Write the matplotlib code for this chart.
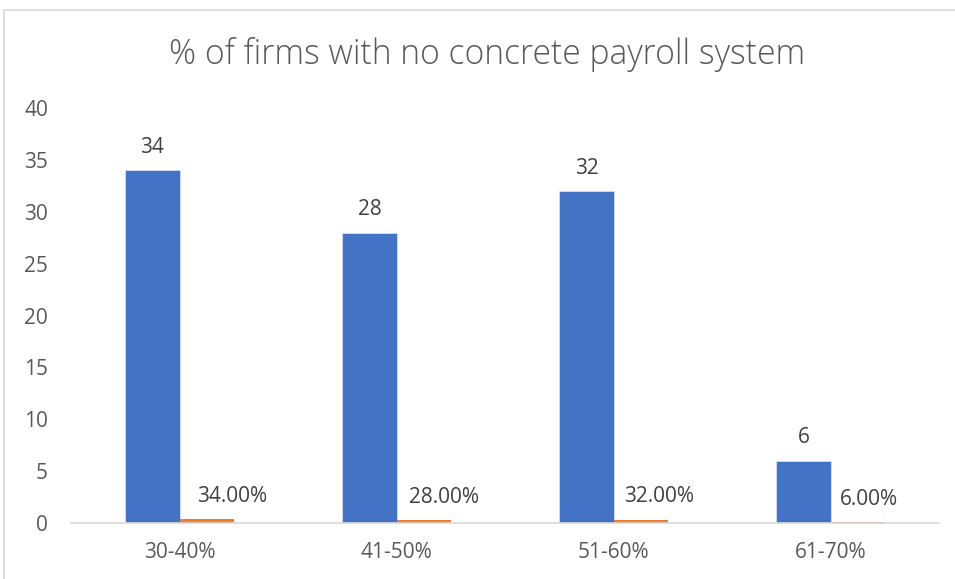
import matplotlib
matplotlib.use("Agg")
import matplotlib.pyplot as plt
from matplotlib.patches import Rectangle
import numpy as np

categories = ["30-40%", "41-50%", "51-60%", "61-70%"]
counts = [34, 28, 32, 6]
shares = [0.34, 0.28, 0.32, 0.06]
yticks = [0, 5, 10, 15, 20, 25, 30, 35, 40]
title = "% of firms with no concrete payroll system"

# horizontal nudges (points) of the percentage labels, as placed in the original
share_label_dx = [18.5, 15, 13, 8]

plt.rcParams['font.family'] = ['Open Sans', 'DejaVu Sans']

W, H = 955, 579
fig = plt.figure(figsize=(W / 100, H / 100), dpi=100)
ax = fig.add_axes([71 / W, (H - 523) / H, (939 - 71) / W, (523 - 108) / H])

x = np.arange(len(categories))
bw = 0.249
b1 = ax.bar(x - bw / 2, counts, bw, color="#4472C4", edgecolor="#d6e0f5", linewidth=0.6)
b2 = ax.bar(x + bw / 2, shares, bw, color="#ED7D31")

lab_color = "#404040"
for xi, v in zip(x - bw / 2, counts):
    ax.annotate(f"{v}", (xi, v), xytext=(0, 9), textcoords="offset points",
                ha="center", va="bottom", fontsize=15, color=lab_color)
for xi, v, dx in zip(x + bw / 2, shares, share_label_dx):
    ax.annotate(f"{v * 100:.2f}%", (xi, v), xytext=(dx, 9), textcoords="offset points",
                ha="center", va="bottom", fontsize=15, color=lab_color)

ax.set_xlim(-0.5, len(categories) - 0.5)
ax.set_ylim(0, 40)
ax.set_yticks(yticks)
ax.set_yticklabels([str(t) for t in yticks])
ax.set_xticks(x)
ax.set_xticklabels(categories)
ax.tick_params(axis="both", length=0, labelsize=15, labelcolor="#595959")
ax.tick_params(axis="y", pad=16.5)
ax.tick_params(axis="x", pad=14)
for s in ["top", "right", "left"]:
    ax.spines[s].set_visible(False)
ax.spines["bottom"].set_color("#d9d9d9")
ax.spines["bottom"].set_linewidth(1.2)

fig.text(487 / W, 1 - 55 / H, title, ha="center", va="center", fontsize=24.2,
         color="#595959", fontweight="light")

fig.add_artist(Rectangle((4 / W, -0.1), 1.2, 1 - 10 / H + 0.1, transform=fig.transFigure,
                         fill=False, edgecolor="#d9d9d9", linewidth=1.2))

fig.savefig("out.png", dpi=100)
